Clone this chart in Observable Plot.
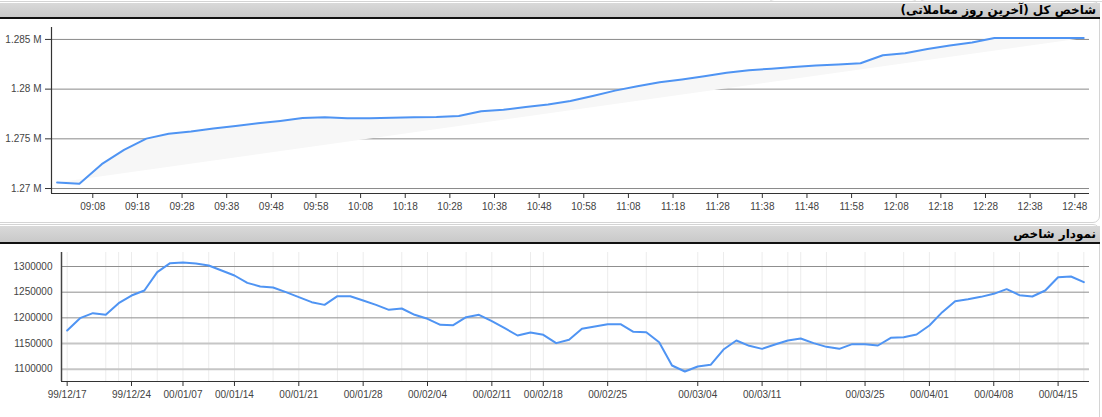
<!DOCTYPE html>
<html>
<head>
<meta charset="utf-8">
<script src="https://cdn.jsdelivr.net/npm/d3@7"></script>
<script src="https://cdn.jsdelivr.net/npm/@observablehq/plot@0.6"></script>
<style>
  html, body { margin: 0; padding: 0; background: #fff; }
  #page { position: relative; width: 1102px; height: 417px; overflow: hidden; background: #fff; font-family: "Liberation Sans", Arial, sans-serif; }
  .panel { position: absolute; border: 1px solid #d4d4d4; border-radius: 7px; }
  .tab { position: absolute; border: 1px solid #d8d8d8; border-radius: 6px; }
  .hdr { position: absolute; left: 0; width: 1100px; background: linear-gradient(#d9d9d9, #c9c9c9); border-bottom: 2px solid #111; direction: rtl; text-align: right; font-family: "DejaVu Sans", sans-serif; font-weight: bold; font-size: 12px; color: #000; box-sizing: border-box; padding-right: 4px; white-space: nowrap; }
  .chart { position: absolute; left: 0; }
  .chart svg { display: block; }
</style>
</head>
<body>
<div id="page">
  <div class="tab" style="left:768px; top:-12px; width:148px; height:12px;"></div>
  <div class="tab" style="left:919px; top:-12px; width:190px; height:12px;"></div>
  <div class="panel" style="left:-10px; top:1px; width:1108px; height:220px;"></div>
  <div class="panel" style="left:-10px; top:224px; width:1108px; height:210px;"></div>
  <div class="hdr" id="h1" style="top:3px; height:16px; line-height:15px;"></div>
  <div class="hdr" id="h2" style="top:226px; height:18px; line-height:17px;"></div>
  <div class="chart" id="c1" style="top:19px;"></div>
  <div class="chart" id="c2" style="top:244px;"></div>
</div>
<script>
// ---------- Top panel: intraday index ----------
const title1 = "شاخص کل (آخرین روز معاملاتی)";
const intradayTimes = ["09:00","09:05","09:10","09:15","09:20","09:25","09:30","09:35","09:40","09:45","09:50","09:55",
  "10:00","10:05","10:10","10:15","10:20","10:25","10:30","10:35","10:40","10:45","10:50","10:55",
  "11:00","11:05","11:10","11:15","11:20","11:25","11:30","11:35","11:40","11:45","11:50","11:55",
  "12:00","12:05","12:10","12:15","12:20","12:25","12:30","12:35","12:40","12:45","12:50"];
const intradayValues = [1270600,1270470,1272450,1273880,1275020,1275510,1275730,1276050,1276300,1276560,1276800,1277090,
  1277160,1277070,1277070,1277120,1277170,1277190,1277300,1277770,1277930,1278200,1278450,1278800,
  1279300,1279850,1280300,1280700,1280980,1281300,1281640,1281900,1282050,1282230,1282370,1282480,
  1282610,1283410,1283620,1284040,1284380,1284690,1285150,1285150,1285150,1285150,1285150];
const intradayTickLabels = ["09:08","09:18","09:28","09:38","09:48","09:58","10:08","10:18","10:28","10:38","10:48","10:58",
  "11:08","11:18","11:28","11:38","11:48","11:58","12:08","12:18","12:28","12:38","12:48"];
const intradayYTicks = [1270000, 1275000, 1280000, 1285000];
const intradayYLabels = ["1.27 M", "1.275 M", "1.28 M", "1.285 M"];

// ---------- Bottom panel: daily index ----------
const title2 = "نمودار شاخص";
const dailyValues = [1175300,1199400,1209100,1205900,1228600,1243500,1253300,1289000,1306500,1307800,
  1305800,1302000,1292200,1282500,1268200,1261000,1259100,1250000,1240300,1230500,
  1225300,1242200,1242200,1233800,1225300,1215600,1218200,1205900,1198100,1186400,
  1185700,1201300,1205900,1193500,1179900,1165600,1171400,1166900,1150700,1157200,
  1178600,1183100,1187700,1187700,1172700,1172100,1152600,1107200,1095500,1105200,
  1108500,1138300,1155900,1145500,1139600,1148100,1155900,1159800,1150700,1143500,
  1139600,1148700,1148700,1146100,1161100,1162400,1167600,1185100,1211100,1232500,
  1236400,1240900,1246800,1255900,1244200,1241600,1253300,1279200,1280500,1269500];
const dailyTickIndex = [0,5,9,13,18,23,28,33,37,42,49,54,57,62,67,72,77];
const dailyTickLabels = ["99/12/17","99/12/24","00/01/07","00/01/14","00/01/21","00/01/28","00/02/04","00/02/11",
  "00/02/18","00/02/25","00/03/04","00/03/11","","00/03/25","00/04/01","00/04/08","00/04/15"];
const dailyMinorGridIndex = [3,4,7,11,16,21,26,31,36,45,51,56,59,65,69,74,79];
const dailyYTicks = [1100000, 1150000, 1200000, 1250000, 1300000];

document.getElementById("h1").textContent = title1;
document.getElementById("h2").textContent = title2;

const toMin = s => { const [h, m] = s.split(":").map(Number); return h * 60 + m; };
const fmtMin = m => String(Math.floor(m / 60)).padStart(2, "0") + ":" + String(m % 60).padStart(2, "0");

const intraday = intradayTimes.map((t, i) => ({t: toMin(t), v: intradayValues[i]}));
const lineColor = "#4f94f3";
const xDom1 = [538.75, 771.3];
const yDom1 = [1269500, 1286200];

const chart1 = Plot.plot({
  width: 1102, height: 200,
  marginLeft: 51, marginRight: 13, marginTop: 8, marginBottom: 26,
  style: {fontFamily: "'Liberation Sans', Arial, sans-serif", fontSize: "10px", color: "#444", background: "transparent"},
  x: {domain: xDom1},
  y: {domain: yDom1},
  marks: [
    Plot.ruleY(intradayYTicks, {stroke: "#8a8a8a", strokeWidth: 1}),
    Plot.line(intraday, {x: "t", y: "v", fill: "#f7f7f7", stroke: "none"}),
    Plot.line(intraday, {x: "t", y: "v", stroke: lineColor, strokeWidth: 2}),
    Plot.ruleX([xDom1[0]], {stroke: "#333", strokeWidth: 1.2}),
    Plot.ruleY([yDom1[0]], {stroke: "#333", strokeWidth: 1.2}),
    Plot.axisY({ticks: intradayYTicks, tickFormat: d => intradayYLabels[intradayYTicks.indexOf(d)], tickSize: 6, tickPadding: 4, label: null, stroke: "#333", fill: "#444"}),
    Plot.axisX({ticks: intradayTickLabels.map(toMin), tickFormat: fmtMin, tickSize: 5, tickPadding: 4, label: null, stroke: "#333", fill: "#444"})
  ]
});
document.getElementById("c1").appendChild(chart1);

const daily = dailyValues.map((v, i) => ({i, v}));
const xDom2 = [-0.44, 79.44];
const yDom2 = [1076000, 1327300];

const chart2 = Plot.plot({
  width: 1102, height: 173,
  marginLeft: 61, marginRight: 13, marginTop: 8, marginBottom: 36,
  style: {fontFamily: "'Liberation Sans', Arial, sans-serif", fontSize: "10px", color: "#444", background: "transparent"},
  x: {domain: xDom2},
  y: {domain: yDom2},
  marks: [
    Plot.ruleX(dailyMinorGridIndex, {stroke: "#ececec", strokeWidth: 1}),
    Plot.ruleX(dailyTickIndex, {stroke: "#ececec", strokeWidth: 1}),
    Plot.ruleY(dailyYTicks, {stroke: d => d < 1175000 ? "#c6c6c6" : "#8f8f8f", strokeWidth: d => d < 1175000 ? 2 : 1}),
    Plot.line(daily, {x: "i", y: "v", stroke: lineColor, strokeWidth: 2}),
    Plot.ruleX([xDom2[0]], {stroke: "#444", strokeWidth: 1.5}),
    Plot.ruleY([yDom2[0]], {stroke: "#333", strokeWidth: 1.2}),
    Plot.axisY({ticks: dailyYTicks, tickFormat: d => String(d), tickSize: 0, tickPadding: 9, label: null, fill: "#444"}),
    Plot.axisX({ticks: dailyTickIndex, tickFormat: d => dailyTickLabels[dailyTickIndex.indexOf(d)], tickSize: 5, tickPadding: 4, label: null, stroke: "#333", fill: "#444"})
  ]
});
document.getElementById("c2").appendChild(chart2);
</script>
</body>
</html>
